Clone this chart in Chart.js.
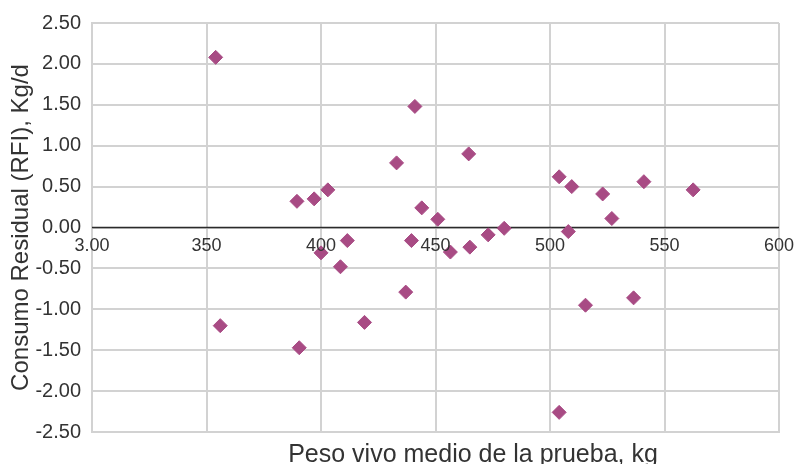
<!DOCTYPE html>
<html>
<head>
<meta charset="utf-8">
<script src="https://cdn.jsdelivr.net/npm/chart.js@4.4.0/dist/chart.umd.min.js"></script>
<style>
  html, body { margin: 0; padding: 0; background: #fff; }
</style>
</head>
<body>
<canvas id="rfi-chart" width="798" height="464"></canvas>
<script>
    // Data
    const pesoVivo = [354, 389.5, 397, 403, 433, 441, 464.5, 444, 451, 504, 509.5, 523, 541, 562.5, 527, 508,
        480, 473, 411.5, 400, 408.5, 356, 390.5, 419, 437, 439.5, 456.5, 465, 515.5, 536.5, 504];
    const rfi = [2.08, 0.32, 0.35, 0.46, 0.79, 1.48, 0.90, 0.24, 0.10, 0.62, 0.50, 0.41, 0.56, 0.46, 0.11, -0.05,
        -0.01, -0.09, -0.16, -0.31, -0.48, -1.20, -1.47, -1.16, -0.79, -0.16, -0.30, -0.24, -0.95, -0.86, -2.26];

    const xTickValues = [300, 350, 400, 450, 500, 550, 600];
    const xTickLabels = ['3.00', '350', '400', '450', '500', '550', '600'];
    const xTitle = 'Peso vivo medio de la prueba, kg';
    const yTitle = 'Consumo Residual (RFI), Kg/d';

    const textColor = '#333333';
    const gridColor = '#d2d2d2';
    const markerColor = '#a84b84';
    const fontFamily = '"Liberation Sans", Arial, sans-serif';

    // zero line + x labels sit on y = 0, like the original
    const zeroAxisPlugin = {
        id: 'zeroAxis',
        beforeDatasetsDraw(chart) {
            const ctx = chart.ctx;
            const area = chart.chartArea;
            const y0 = chart.scales.y.getPixelForValue(0);
            ctx.save();
            ctx.strokeStyle = '#2b2b2b';
            ctx.lineWidth = 1.5;
            ctx.beginPath();
            ctx.moveTo(area.left, y0);
            ctx.lineTo(area.right, y0);
            ctx.stroke();
            ctx.restore();
        },
        afterDatasetsDraw(chart) {
            const ctx = chart.ctx;
            const xs = chart.scales.x;
            const y0 = chart.scales.y.getPixelForValue(0);
            ctx.save();
            ctx.fillStyle = textColor;
            ctx.font = '18px ' + fontFamily;
            ctx.textAlign = 'center';
            ctx.textBaseline = 'middle';
            xTickValues.forEach((v, i) => {
                ctx.fillText(xTickLabels[i], xs.getPixelForValue(v), y0 + 19);
            });
            ctx.font = '25px ' + fontFamily;
            ctx.textBaseline = 'alphabetic';
            ctx.fillText(xTitle, 473, 462);
            ctx.restore();
        }
    };

    const ctx = document.getElementById('rfi-chart').getContext('2d');
    const rfiChart = new Chart(ctx, {
        type: 'scatter',
        data: {
            datasets: [{
                label: 'RFI',
                data: pesoVivo.map((x, i) => ({ x: x, y: rfi[i] })),
                pointStyle: 'rectRot',
                pointRadius: 7,
                pointHoverRadius: 7,
                backgroundColor: markerColor,
                borderColor: markerColor,
                borderWidth: 1
            }]
        },
        options: {
            responsive: false,
            devicePixelRatio: 1,
            animation: false,
            layout: { padding: { top: 21, right: 19, bottom: 0, left: 0 } },
            plugins: { legend: { display: false }, tooltip: { enabled: false } },
            scales: {
                x: {
                    type: 'linear',
                    min: 300,
                    max: 600,
                    ticks: { stepSize: 50, display: false },
                    grid: { color: gridColor, lineWidth: 2, drawTicks: false },
                    border: { color: gridColor, width: 2 },
                    afterFit: s => { s.height = 32; }
                },
                y: {
                    min: -2.5,
                    max: 2.5,
                    ticks: {
                        stepSize: 0.5,
                        padding: 11,
                        color: textColor,
                        font: { family: fontFamily, size: 20 },
                        callback: v => v.toFixed(2)
                    },
                    grid: { color: gridColor, lineWidth: 2, drawTicks: false },
                    border: { color: gridColor, width: 2 },
                    title: {
                        display: true,
                        text: yTitle,
                        color: textColor,
                        font: { family: fontFamily, size: 24 },
                        padding: { top: 7, bottom: 0 }
                    },
                    afterFit: s => { s.width = 92; }
                }
            }
        },
        plugins: [zeroAxisPlugin]
    });
</script>
</body>
</html>
